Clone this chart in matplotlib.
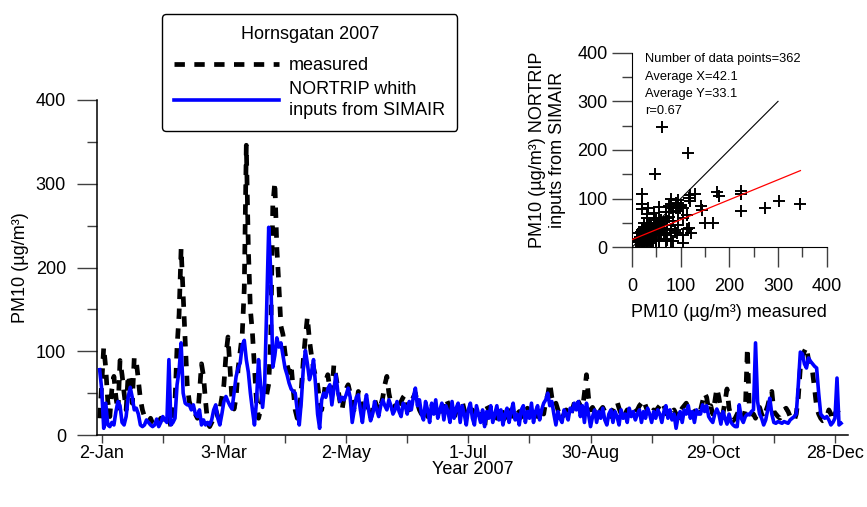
import matplotlib
matplotlib.use("Agg")
import matplotlib.pyplot as plt
import matplotlib.dates as mdates
import numpy as np
import pandas as pd
from matplotlib.ticker import MultipleLocator
from matplotlib.lines import Line2D

plt.rcParams['font.family'] = ['Liberation Sans', 'DejaVu Sans']

# ---------------- data ----------------
start_date = "2007-01-01"

measured = [
    # Jan
    20, 60, 105, 80, 40, 22, 55, 70, 45, 28, 89, 72, 50, 30, 72, 60, 38, 93, 88, 65, 43, 30, 22, 18, 15, 20, 14, 12, 18, 15, 20,
    # Feb
    16, 12, 14, 20, 10, 25, 40, 105, 144, 223, 166, 112, 60, 40, 33, 30, 25, 20, 50, 85, 70, 40, 15, 10, 15, 20, 30, 22,
    # Mar
    30, 45, 60, 95, 117, 80, 40, 31, 45, 80, 100, 120, 175, 346, 223, 150, 122, 80, 40, 20, 30, 50, 45, 48, 61, 116, 274, 302, 223, 178, 130,
    # Apr
    120, 98, 84, 75, 84, 55, 30, 20, 25, 55, 90, 117, 141, 113, 95, 80, 70, 60, 40, 30, 45, 65, 72, 55, 50, 84, 70, 55, 40, 30,
    # May
    45, 55, 60, 50, 42, 30, 35, 52, 45, 30, 25, 38, 28, 20, 30, 42, 35, 28, 35, 45, 60, 70, 50, 38, 30, 35, 28, 32, 40, 45, 48,
    # Jun
    35, 30, 40, 45, 50, 38, 30, 25, 35, 30, 22, 28, 35, 30, 25, 20, 28, 32, 40, 44, 38, 30, 25, 20, 28, 32, 35, 40, 30, 25,
    # Jul
    22, 28, 30, 25, 20, 28, 22, 15, 8, 35, 30, 22, 18, 25, 20, 28, 32, 25, 20, 18, 25, 30, 22, 18, 25, 28, 22, 20, 28, 32, 25,
    # Aug
    25, 30, 28, 22, 35, 30, 25, 40, 48, 62, 45, 35, 38, 30, 22, 20, 25, 30, 28, 22, 30, 38, 45, 40, 35, 30, 50, 72, 45, 30, 33,
    # Sep
    28, 22, 25, 30, 33, 28, 30, 25, 22, 30, 35, 40, 32, 25, 20, 25, 30, 28, 22, 25, 28, 30, 35, 38, 42, 35, 28, 22, 25, 30,
    # Oct
    28, 32, 35, 40, 35, 28, 22, 25, 28, 30, 25, 20, 28, 32, 35, 38, 32, 25, 22, 28, 30, 35, 30, 40, 50, 45, 30, 35, 25, 40, 56,
    # Nov
    45, 30, 25, 40, 55, 32, 22, 17, 20, 25, 30, 22, 20, 30, 104, 28, 25, 25, 20, 28, 33, 25, 20, 28, 35, 45, 52, 28, 25, 22,
    # Dec
    20, 25, 30, 32, 28, 22, 20, 17, 25, 45, 80, 95, 100, 105, 90, 80, 75, 55, 33, 25, 20, 17, 18, 22, 30, 25, 17, 25, 30, 25, 20,
]

nortrip = [
    # Jan
    78, 55, 8, 38, 12, 10, 15, 12, 28, 40, 35, 15, 12, 22, 45, 57, 45, 30, 32, 25, 12, 10, 12, 18, 15, 12, 10, 12, 19, 10, 15,
    # Feb
    22, 18, 15, 90, 12, 15, 20, 60, 77, 110, 50, 38, 36, 36, 30, 36, 25, 22, 30, 12, 18, 12, 15, 12, 18, 30, 36, 20,
    # Mar
    12, 25, 40, 46, 40, 35, 31, 50, 70, 80, 86, 107, 113, 90, 75, 50, 30, 12, 40, 90, 60, 33, 60, 151, 248, 193, 81, 95, 116, 105,
    110,
    # Apr
    95, 80, 72, 62, 55, 52, 50, 30, 12, 40, 80, 101, 85, 66, 75, 90, 60, 25, 8, 42, 50, 45, 55, 60, 36, 55, 72, 50, 40, 45,
    # May
    42, 48, 56, 45, 15, 30, 45, 48, 30, 15, 35, 48, 30, 17, 25, 40, 30, 22, 35, 42, 35, 30, 42, 35, 25, 30, 40, 28, 22, 38, 35,
    # Jun
    25, 40, 30, 45, 56, 35, 42, 25, 18, 40, 30, 15, 38, 25, 42, 20, 30, 38, 18, 35, 28, 15, 40, 20, 32, 38, 15, 35, 25, 12,
    # Jul
    30, 38, 20, 12, 35, 25, 15, 30, 10, 28, 20, 35, 15, 25, 35, 18, 30, 12, 25, 32, 15, 28, 38, 18, 25, 12, 30, 35, 15, 28, 20,
    # Aug
    38, 15, 28, 35, 18, 30, 38, 42, 50, 35, 40, 25, 12, 28, 20, 15, 30, 25, 18, 32, 28, 38, 30, 40, 22, 35, 15, 38, 25, 10, 22,
    # Sep
    30, 15, 28, 20, 32, 18, 12, 25, 30, 15, 28, 22, 12, 30, 20, 25, 15, 32, 22, 28, 18, 25, 30, 15, 28, 20, 32, 25, 15, 28,
    # Oct
    20, 30, 25, 15, 28, 35, 20, 30, 18, 25, 8, 22, 28, 15, 30, 25, 35, 20, 28, 15, 30, 25, 25, 36, 28, 35, 22, 18, 15, 25, 31,
    # Nov
    25, 13, 28, 20, 13, 25, 15, 12, 10, 10, 36, 20, 15, 22, 25, 24, 28, 30, 110, 40, 25, 20, 12, 18, 30, 44, 25, 15, 14, 16,
    # Dec
    15, 14, 16, 15, 14, 18, 20, 22, 25, 60, 99, 97, 85, 80, 92, 88, 85, 82, 80, 50, 25, 22, 20, 22, 18, 12, 15, 20, 68, 12, 14,
]
nortrip = nortrip[:len(measured)]

xtick_labels = ["2-Jan", "", "3-Mar", "", "2-May", "", "1-Jul", "", "30-Aug", "", "29-Oct", "", "28-Dec"]
first_tick = "2007-01-02"

legend_title = "Hornsgatan 2007"
label_measured = "measured"
label_model = "NORTRIP whith\ninputs from SIMAIR"

stats_lines = ["Number of data points=362", "Average X=42.1", "Average Y=33.1", "r=0.67"]
reg_intercept = 15.8
reg_slope = 0.41
one_to_one_end = 300

# ---------------- figure ----------------
W, H = 867, 507
FS = 13
fig = plt.figure(figsize=(W / 100, H / 100), dpi=100)

ax = fig.add_axes([97 / W, 1 - 435 / H, (848 - 97) / W, 335 / H])
dates = pd.date_range(start_date, periods=len(measured), freq="D")
ax.plot(dates, measured, color="black", lw=3.4, dashes=(2.2, 2.0), zorder=2)
ax.plot(dates, nortrip, color="#0000ff", lw=2.6, zorder=3)

t0 = mdates.date2num(pd.Timestamp(start_date))
ax.set_xlim(t0 - 1.3, t0 + 367.4)
ax.set_ylim(0, 400)
ticks = pd.date_range(first_tick, periods=len(xtick_labels), freq="30D")
ax.set_xticks(ticks)
ax.set_xticklabels(xtick_labels)
ax.yaxis.set_major_locator(MultipleLocator(100))
ax.yaxis.set_minor_locator(MultipleLocator(50))
ax.tick_params(axis="y", which="major", length=14.4, width=1, pad=8, labelsize=FS, color="#404040")
ax.tick_params(axis="y", which="minor", length=7.2, width=1, color="#404040")
ax.tick_params(axis="x", which="major", length=6, width=1, pad=1.5, labelsize=FS, color="#404040")
for s in ["top", "right"]:
    ax.spines[s].set_visible(False)
for s in ["left", "bottom"]:
    ax.spines[s].set_linewidth(1.1)
ax.set_ylabel("PM10 (µg/m³)", fontsize=FS)
ax.yaxis.set_label_coords((29 - 97) / 751, 0.5)
ax.set_xlabel("Year 2007", fontsize=FS)
ax.xaxis.set_label_coords(0.5, (435 - 461) / 335)

# legend
handles = [Line2D([], [], color="black", lw=3.4, dashes=(2.2, 2.0)),
           Line2D([], [], color="#0000ff", lw=2.6)]
leg = fig.legend(handles, [label_measured, label_model], title=legend_title,
                 loc="upper left", bbox_to_anchor=(162 / W, 1 - 14 / H),
                 borderaxespad=0, fontsize=FS, title_fontsize=FS, handlelength=5.8,
                 handletextpad=0.55, borderpad=0.68, labelspacing=0.42,
                 frameon=True, fancybox=True, framealpha=1, edgecolor="black")
leg.get_frame().set_linewidth(1.0)
for t in leg.get_texts():
    t.set_linespacing(1.25)
leg._legend_box.sep = 9.8

# inset scatter
ax2 = fig.add_axes([632 / W, 1 - 247.3 / H, 194.7 / W, 194.6 / H])
ax2.plot(measured, nortrip, linestyle="none", marker="+", color="black", ms=8, mew=1.4, zorder=2)
ax2.plot([0, one_to_one_end], [0, one_to_one_end], color="black", lw=0.8, zorder=3)
xr = np.array([0, max(measured)])
ax2.plot(xr, reg_intercept + reg_slope * xr, color="red", lw=0.9, zorder=4)
ax2.set_xlim(0, 400)
ax2.set_ylim(0, 400)
for a in (ax2.xaxis, ax2.yaxis):
    a.set_major_locator(MultipleLocator(100))
    a.set_minor_locator(MultipleLocator(50))
ax2.tick_params(which="major", length=14.4, width=1, labelsize=FS, color="#404040")
ax2.tick_params(which="minor", length=7.2, width=1, color="#404040")
ax2.tick_params(axis="x", which="major", pad=8)
ax2.tick_params(axis="y", which="major", pad=3)
for s in ["top", "right"]:
    ax2.spines[s].set_visible(False)
ax2.set_xlabel("PM10 (µg/m³) measured", fontsize=FS)
ax2.xaxis.set_label_coords(0.5, (247.3 - 304) / 194.6)
ax2.set_ylabel("PM10 (µg/m³) NORTRIP\ninputs from SIMAIR", fontsize=FS, linespacing=1.25)
ax2.yaxis.set_label_coords((566 - 632) / 194.7, 0.5)
ys = [59, 77, 94, 111]
for txt, yy in zip(stats_lines, ys):
    ax2.text((645 - 632) / 194.7, (247.3 - yy) / 194.6, txt, transform=ax2.transAxes,
             fontsize=9.3, va="center", ha="left")

fig.savefig("out.png", dpi=100)
